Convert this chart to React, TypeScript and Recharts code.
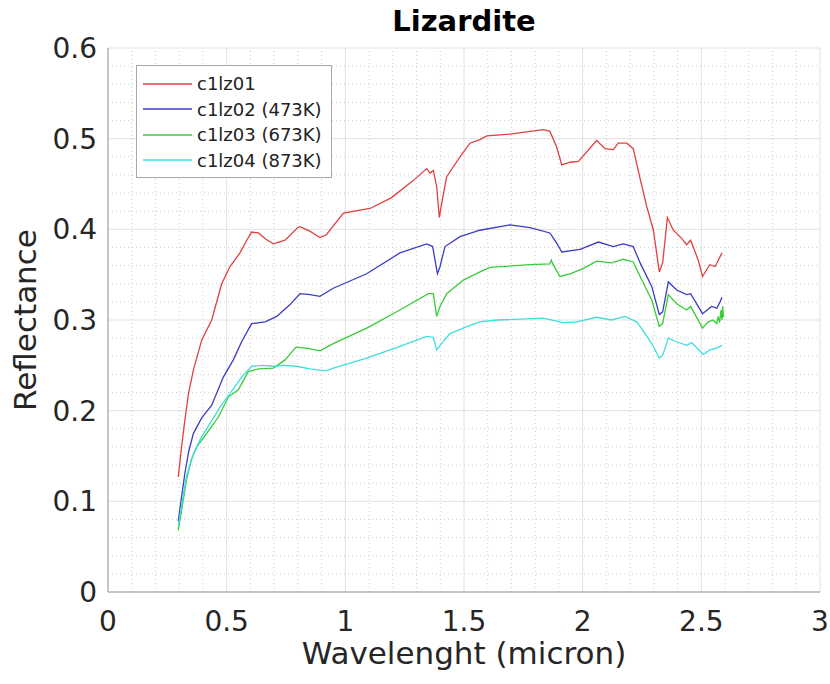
import React from 'react';
import { LineChart, Line, XAxis, YAxis, CartesianGrid, Legend, ReferenceLine } from 'recharts';

// [wavelength (micron), reflectance]
const c1lz01: [number, number][] = [
  [0.296, 0.127], [0.31, 0.16], [0.324, 0.19], [0.34, 0.22], [0.36, 0.245], [0.395, 0.278],
  [0.437, 0.3], [0.479, 0.34], [0.514, 0.359], [0.556, 0.374], [0.585, 0.388], [0.605, 0.397],
  [0.634, 0.396], [0.665, 0.389], [0.697, 0.384], [0.746, 0.388], [0.8, 0.402], [0.809, 0.403],
  [0.85, 0.398], [0.893, 0.391], [0.92, 0.394], [0.992, 0.418], [1.104, 0.423], [1.195, 0.435],
  [1.287, 0.454], [1.343, 0.467], [1.357, 0.462], [1.371, 0.465], [1.385, 0.447], [1.396, 0.413],
  [1.406, 0.429], [1.427, 0.458], [1.483, 0.48], [1.525, 0.495], [1.567, 0.499], [1.596, 0.503],
  [1.694, 0.505], [1.834, 0.51], [1.862, 0.508], [1.89, 0.491], [1.912, 0.471], [1.947, 0.474],
  [1.982, 0.475], [2.059, 0.498], [2.094, 0.489], [2.129, 0.488], [2.15, 0.495], [2.186, 0.495],
  [2.213, 0.489], [2.242, 0.456], [2.27, 0.425], [2.298, 0.399], [2.323, 0.353], [2.337, 0.363],
  [2.357, 0.413], [2.382, 0.399], [2.417, 0.39], [2.438, 0.383], [2.455, 0.388], [2.487, 0.366],
  [2.505, 0.348], [2.536, 0.361], [2.558, 0.359], [2.587, 0.374],
];

const c1lz02: [number, number][] = [
  [0.296, 0.078], [0.31, 0.105], [0.324, 0.131], [0.34, 0.155], [0.36, 0.175], [0.395, 0.192],
  [0.437, 0.206], [0.486, 0.237], [0.528, 0.256], [0.563, 0.276], [0.605, 0.296], [0.662, 0.298],
  [0.711, 0.304], [0.767, 0.317], [0.809, 0.329], [0.851, 0.328], [0.893, 0.326], [0.949, 0.335],
  [1.09, 0.351], [1.23, 0.374], [1.343, 0.384], [1.368, 0.381], [1.388, 0.351], [1.399, 0.359],
  [1.42, 0.381], [1.483, 0.392], [1.567, 0.399], [1.694, 0.405], [1.778, 0.402], [1.862, 0.396],
  [1.89, 0.385], [1.912, 0.375], [1.989, 0.378], [2.066, 0.386], [2.129, 0.381], [2.171, 0.384],
  [2.213, 0.381], [2.242, 0.363], [2.291, 0.337], [2.323, 0.306], [2.337, 0.309], [2.361, 0.342],
  [2.396, 0.333], [2.438, 0.328], [2.455, 0.329], [2.505, 0.307], [2.543, 0.315], [2.565, 0.313],
  [2.579, 0.32], [2.587, 0.325],
];

const c1lz03: [number, number][] = [
  [0.296, 0.068], [0.31, 0.09], [0.331, 0.124], [0.35, 0.145], [0.374, 0.16], [0.416, 0.175],
  [0.465, 0.193], [0.507, 0.215], [0.549, 0.223], [0.591, 0.243], [0.634, 0.246], [0.697, 0.247],
  [0.746, 0.256], [0.792, 0.27], [0.837, 0.269], [0.893, 0.266], [0.949, 0.274], [1.09, 0.291],
  [1.23, 0.311], [1.35, 0.329], [1.371, 0.329], [1.385, 0.304], [1.399, 0.315], [1.427, 0.329],
  [1.497, 0.344], [1.567, 0.353], [1.61, 0.358], [1.778, 0.361], [1.862, 0.362], [1.868, 0.366],
  [1.876, 0.361], [1.904, 0.348], [1.947, 0.351], [2.003, 0.357], [2.059, 0.365], [2.122, 0.363],
  [2.171, 0.367], [2.213, 0.364], [2.242, 0.348], [2.291, 0.322], [2.323, 0.293], [2.337, 0.296],
  [2.361, 0.328], [2.396, 0.318], [2.438, 0.311], [2.455, 0.315], [2.505, 0.291], [2.529, 0.298],
  [2.55, 0.3], [2.565, 0.296], [2.571, 0.304], [2.577, 0.297], [2.583, 0.311], [2.587, 0.3],
  [2.59, 0.315], [2.593, 0.303],
];

const c1lz04: [number, number][] = [
  [0.296, 0.072], [0.31, 0.095], [0.331, 0.128], [0.36, 0.152], [0.388, 0.168], [0.43, 0.186],
  [0.472, 0.204], [0.514, 0.219], [0.563, 0.237], [0.605, 0.249], [0.654, 0.25], [0.697, 0.249],
  [0.746, 0.25], [0.795, 0.249], [0.851, 0.246], [0.92, 0.244], [0.949, 0.247], [1.09, 0.258],
  [1.23, 0.271], [1.343, 0.282], [1.371, 0.281], [1.385, 0.267], [1.399, 0.272], [1.441, 0.285],
  [1.525, 0.294], [1.567, 0.298], [1.638, 0.3], [1.834, 0.302], [1.918, 0.297], [1.975, 0.298],
  [2.059, 0.303], [2.122, 0.3], [2.178, 0.304], [2.228, 0.298], [2.242, 0.293], [2.291, 0.274],
  [2.323, 0.258], [2.337, 0.261], [2.361, 0.28], [2.396, 0.276], [2.438, 0.272], [2.459, 0.275],
  [2.508, 0.262], [2.536, 0.267], [2.565, 0.269], [2.587, 0.272],
];

const seriesNames = ['c1lz01', 'c1lz02 (473K)', 'c1lz03 (673K)', 'c1lz04 (873K)'];
const seriesColors = ['#e0403f', '#3c3cc6', '#38cc38', '#3fdede'];
const xTicks = [0, 0.5, 1, 1.5, 2, 2.5, 3];
const yTicks = [0, 0.1, 0.2, 0.3, 0.4, 0.5, 0.6];

const toPoints = (s: [number, number][]) => s.map(([w, r]) => ({ w, r }));
const allSeries = [c1lz01, c1lz02, c1lz03, c1lz04].map(toPoints);

// minor grid positions (every 0.1 in x, every 0.02 in y, skipping the major ones)
const minorX: number[] = [];
for (let i = 1; i < 30; i++) if (i % 5 !== 0) minorX.push(+(i / 10).toFixed(2));
const minorY: number[] = [];
for (let i = 1; i < 30; i++) if (i % 5 !== 0) minorY.push(+(i / 50).toFixed(2));

const FONT = '"DejaVu Sans", sans-serif';

function LegendBox() {
  return (
    <div style={{ border: '1px solid #a8a8a8', background: '#fff', width: 194, padding: '5px 0 4px 0', fontFamily: FONT, fontSize: 18, color: '#222' }}>
      {seriesNames.map((n, i) => (
        <div key={n} style={{ display: 'flex', alignItems: 'center', height: 25.5 }}>
          <svg width={60} height={10}><line x1={6} x2={55} y1={5} y2={5} stroke={seriesColors[i]} strokeWidth={1.3} /></svg>
          <span>{n}</span>
        </div>
      ))}
    </div>
  );
}

export default function App() {
  return (
    <div style={{ position: 'absolute', left: 0, top: 0, width: 830, height: 684, background: '#fff' }}>
      <svg width={830} height={48} style={{ position: 'absolute', left: 0, top: 0 }}>
        <text x={464} y={31} textAnchor="middle" fontFamily={FONT} fontWeight="bold" fontSize={29} fill="#000">Lizardite</text>
      </svg>
      <LineChart width={830} height={684} margin={{ top: 48, right: 10, bottom: 12, left: 0 }}>
        <CartesianGrid stroke="#e2e2e2" strokeWidth={1} />
        {minorX.map((v) => (
          <ReferenceLine key={'mx' + v} x={v} stroke="#cfcfcf" strokeDasharray="1 3" />
        ))}
        {minorY.map((v) => (
          <ReferenceLine key={'my' + v} y={v} stroke="#cfcfcf" strokeDasharray="1 3" />
        ))}
        <XAxis
          type="number"
          dataKey="w"
          domain={[0, 3]}
          ticks={xTicks}
          allowDataOverflow
          height={80}
          tickLine={false}
          tickSize={0}
          tickMargin={19}
          axisLine={{ stroke: '#9a9a9a' }}
          tick={{ fontFamily: FONT, fontSize: 28, fill: '#262626' }}
          label={{ value: 'Wavelenght (micron)', position: 'insideBottom', offset: 8, style: { fontFamily: FONT, fontSize: 31, fill: '#262626' } }}
        />
        <YAxis
          type="number"
          dataKey="r"
          domain={[0, 0.6]}
          ticks={yTicks}
          allowDataOverflow
          width={108}
          tickLine={false}
          tickSize={0}
          tickMargin={11}
          axisLine={{ stroke: '#9a9a9a' }}
          tick={{ fontFamily: FONT, fontSize: 28, fill: '#262626' }}
          label={{
            content: ({ viewBox }: any) => (
              <text
                x={viewBox.x + 25}
                y={viewBox.y + viewBox.height / 2}
                transform={`rotate(-90 ${viewBox.x + 25} ${viewBox.y + viewBox.height / 2})`}
                textAnchor="middle"
                dominantBaseline="central"
                fontFamily={FONT}
                fontSize={31}
                fill="#262626"
              >
                Reflectance
              </text>
            ),
          }}
        />
        <Legend
          layout="vertical"
          align="center"
          verticalAlign="middle"
          content={() => <LegendBox />}
          wrapperStyle={{ position: 'absolute', left: 136, top: 65, width: 196 }}
        />
        {allSeries.map((d, i) => (
          <Line
            key={seriesNames[i]}
            data={d}
            dataKey="r"
            name={seriesNames[i]}
            type="linear"
            stroke={seriesColors[i]}
            strokeWidth={1.3}
            dot={false}
            isAnimationActive={false}
          />
        ))}
      </LineChart>
    </div>
  );
}
